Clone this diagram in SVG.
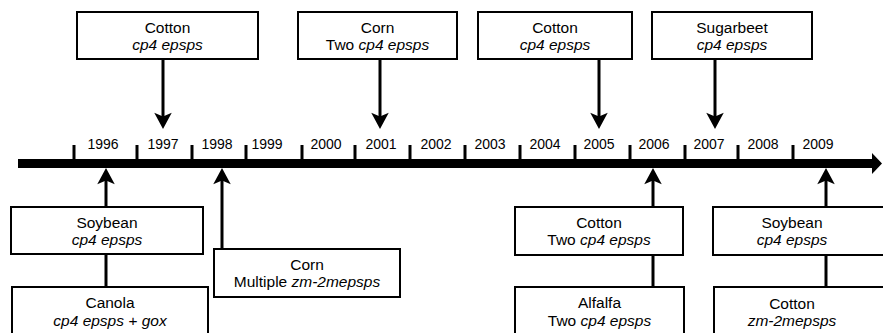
<svg xmlns="http://www.w3.org/2000/svg" width="883" height="333" viewBox="0 0 883 333">
<style>
.box{fill:#fff;stroke:#000;stroke-width:2}
.t{font-family:"Liberation Sans",Arial,sans-serif;font-size:15.5px;fill:#000;text-anchor:middle}
.i{font-style:italic}
.yr{font-family:"Liberation Sans",Arial,sans-serif;font-size:14px;fill:#000;text-anchor:middle}
.con{stroke:#000;stroke-width:3;fill:none}
.arr{marker-end:url(#ah)}
</style>
<defs>
<marker id="ah" markerUnits="userSpaceOnUse" markerWidth="20" markerHeight="20" viewBox="-6 -8 16 16" refX="0" refY="0" orient="auto">
<path d="M8,0 L-5,-7 L-2,0 L-5,7 Z" fill="#000"/>
</marker>
</defs>
<rect width="883" height="333" fill="#fff"/>
<g id="timeline">
<rect x="18" y="159" width="856" height="9" fill="#000"/>
<polygon points="872,153 882,163.5 872,174" fill="#000"/>
<g fill="#000">
<rect x="72.5" y="145" width="3" height="15"/>
<rect x="135.5" y="145" width="3" height="15"/>
<rect x="190.5" y="145" width="3" height="15"/>
<rect x="244.5" y="145" width="3" height="15"/>
<rect x="300.5" y="145" width="3" height="15"/>
<rect x="353.5" y="145" width="3" height="15"/>
<rect x="408.5" y="145" width="3" height="15"/>
<rect x="463.5" y="145" width="3" height="15"/>
<rect x="518.5" y="145" width="3" height="15"/>
<rect x="573.5" y="145" width="3" height="15"/>
<rect x="628.5" y="145" width="3" height="15"/>
<rect x="683.5" y="145" width="3" height="15"/>
<rect x="736.5" y="145" width="3" height="15"/>
<rect x="791.5" y="145" width="3" height="15"/>
</g>
<text class="yr" x="103" y="149">1996</text>
<text class="yr" x="163" y="149">1997</text>
<text class="yr" x="217" y="149">1998</text>
<text class="yr" x="267" y="149">1999</text>
<text class="yr" x="326" y="149">2000</text>
<text class="yr" x="381" y="149">2001</text>
<text class="yr" x="436" y="149">2002</text>
<text class="yr" x="490" y="149">2003</text>
<text class="yr" x="545" y="149">2004</text>
<text class="yr" x="599" y="149">2005</text>
<text class="yr" x="654" y="149">2006</text>
<text class="yr" x="709" y="149">2007</text>
<text class="yr" x="763" y="149">2008</text>
<text class="yr" x="818" y="149">2009</text>
</g>
<g id="connectors">
<line class="con arr" x1="163" y1="59" x2="163" y2="119"/>
<line class="con arr" x1="380" y1="59" x2="380" y2="119"/>
<line class="con arr" x1="599" y1="59" x2="599" y2="119"/>
<line class="con arr" x1="715" y1="59" x2="715" y2="119"/>
<line class="con arr" x1="106" y1="207" x2="106" y2="178"/>
<line class="con" x1="106" y1="254" x2="106" y2="287"/>
<line class="con arr" x1="222" y1="249" x2="222" y2="178"/>
<line class="con arr" x1="653" y1="207" x2="653" y2="178"/>
<line class="con" x1="653" y1="255" x2="653" y2="287"/>
<line class="con arr" x1="826" y1="207" x2="826" y2="178"/>
<line class="con" x1="826" y1="255" x2="826" y2="287"/>
</g>
<g id="n1997">
<rect class="box" x="77" y="12" width="181" height="47"/>
<text class="t" x="167.5" y="33">Cotton</text>
<text class="t i" x="167.5" y="50">cp4 epsps</text>
</g>
<g id="n2001">
<rect class="box" x="298" y="12" width="159" height="47"/>
<text class="t" x="377.5" y="33">Corn</text>
<text class="t" x="377.5" y="50">Two <tspan class="i">cp4 epsps</tspan></text>
</g>
<g id="n2005">
<rect class="box" x="478" y="12" width="154" height="47"/>
<text class="t" x="555" y="33">Cotton</text>
<text class="t i" x="555" y="50">cp4 epsps</text>
</g>
<g id="n2007">
<rect class="box" x="652" y="12" width="160" height="47"/>
<text class="t" x="732" y="33">Sugarbeet</text>
<text class="t i" x="732" y="50">cp4 epsps</text>
</g>
<g id="n1996soy">
<rect class="box" x="11" y="207" width="192" height="47"/>
<text class="t" x="107" y="228">Soybean</text>
<text class="t i" x="107" y="245">cp4 epsps</text>
</g>
<g id="n1996can">
<rect class="box" x="12" y="287" width="196" height="60"/>
<text class="t" x="110" y="308">Canola</text>
<text class="t i" x="110" y="326">cp4 epsps + gox</text>
</g>
<g id="n1998">
<rect class="box" x="214" y="249" width="186" height="48"/>
<text class="t" x="307" y="270">Corn</text>
<text class="t" x="307" y="287">Multiple <tspan class="i">zm-2mepsps</tspan></text>
</g>
<g id="n2006cot">
<rect class="box" x="515" y="207" width="168" height="48"/>
<text class="t" x="599" y="228">Cotton</text>
<text class="t" x="599" y="245">Two <tspan class="i">cp4 epsps</tspan></text>
</g>
<g id="n2006alf">
<rect class="box" x="515" y="287" width="169" height="60"/>
<text class="t" x="599.5" y="308">Alfalfa</text>
<text class="t" x="599.5" y="326">Two <tspan class="i">cp4 epsps</tspan></text>
</g>
<g id="n2009soy">
<rect class="box" x="713" y="207" width="180" height="48"/>
<text class="t" x="792" y="228">Soybean</text>
<text class="t i" x="792" y="245">cp4 epsps</text>
</g>
<g id="n2009cot">
<rect class="box" x="714" y="287" width="180" height="60"/>
<text class="t" x="792" y="309">Cotton</text>
<text class="t i" x="792" y="326">zm-2mepsps</text>
</g>
</svg>
